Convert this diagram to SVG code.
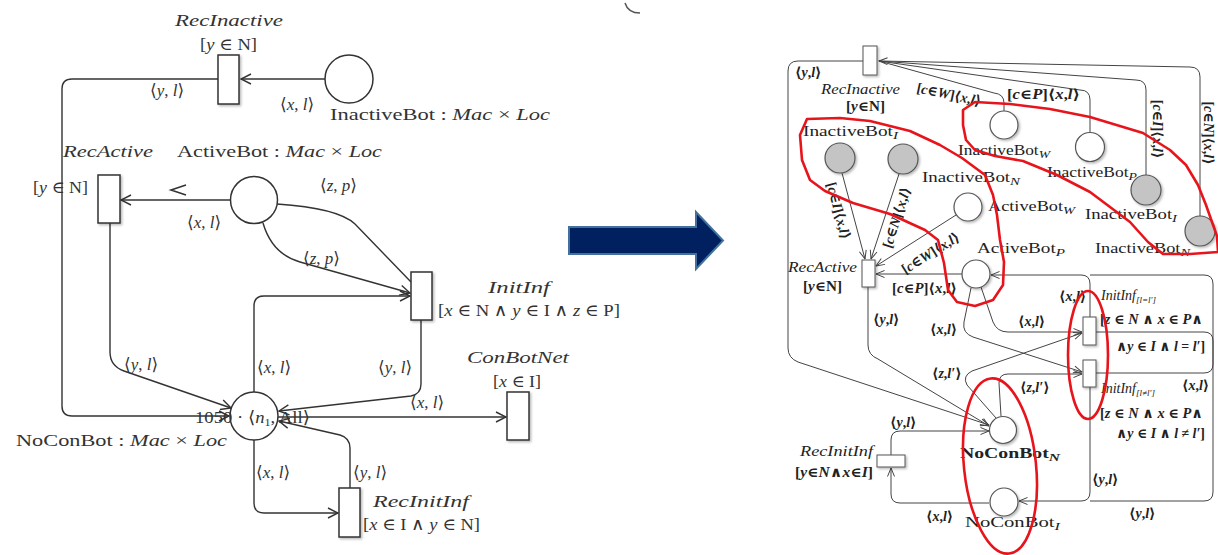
<svg xmlns="http://www.w3.org/2000/svg" width="1218" height="555" viewBox="0 0 1218 555">
<style>
.lt{font-family:'Liberation Serif','DejaVu Serif',serif;font-size:17px;fill:#333}
.rt{font-family:'Liberation Serif','DejaVu Serif',serif;font-size:14px;fill:#222}
.it{font-style:italic}
.b{font-weight:bold}
.ll{fill:none;stroke:#333;stroke-width:1.4}
.rl{fill:none;stroke:#444;stroke-width:1}
.lbox{fill:#fff;stroke:#333;stroke-width:1.5}
.rbox{fill:#fff;stroke:#555;stroke-width:1}
.rw{fill:#fff;stroke:#555;stroke-width:1.2}
.rg{fill:#c4c4c4;stroke:#555;stroke-width:1.2}
.red{fill:none;stroke:#e8141c;stroke-width:2.6;stroke-linejoin:round}
</style>
<defs>
<marker id="al" viewBox="0 0 12 12" markerWidth="12" markerHeight="12" refX="11" refY="6" orient="auto" markerUnits="userSpaceOnUse"><path d="M1,1 L11,6 L1,11" fill="none" stroke="#333" stroke-width="1.4"/></marker>
<marker id="ar" viewBox="0 0 10 10" markerWidth="10" markerHeight="10" refX="9.5" refY="5" orient="auto" markerUnits="userSpaceOnUse"><path d="M1,1.5 L9.5,5 L1,8.5" fill="none" stroke="#444" stroke-width="1"/></marker>
<filter id="sh" x="-30%" y="-30%" width="170%" height="170%"><feDropShadow dx="1.5" dy="1.5" stdDeviation="1.2" flood-color="#000" flood-opacity="0.28"/></filter>
</defs>
<rect width="1218" height="555" fill="#fff"/>

<!-- stray arc at top -->
<path d="M625 3 Q628 13 640 13" fill="none" stroke="#555" stroke-width="1.5"/>

<!-- ===== LEFT NET: connectors ===== -->
<g id="left-connectors">
<path class="ll" d="M325 79 H241" marker-end="url(#al)"/>
<path class="ll" d="M218 79 H72 Q62 79 62 89 V406 Q62 416 72 416 H229" marker-end="url(#al)"/>
<path class="ll" d="M230 200 H121" marker-end="url(#al)"/>
<polyline points="186,185 171,190 186,195" fill="none" stroke="#333" stroke-width="1.6"/>
<path class="ll" d="M277 204 Q338 208 355 224 L411 282"/>
<path class="ll" d="M263 223 Q272 254 300 262 L410 293" marker-end="url(#al)"/>
<path class="ll" d="M254 392 V306 Q254 296 264 296 H410" marker-end="url(#al)"/>
<path class="ll" d="M421 320 V384 Q421 394 411 396 L279 411" marker-end="url(#al)"/>
<path class="ll" d="M110 223 V352 Q110 366 124 371 L231 408" marker-end="url(#al)"/>
<path class="ll" d="M278 417 H506" marker-end="url(#al)"/>
<path class="ll" d="M254 440 V503 Q254 513 264 513 H338" marker-end="url(#al)"/>
<path class="ll" d="M350 488 V448 Q350 438 340 435 L279 421" marker-end="url(#al)"/>
<text class="lt" x="150" y="96">⟨<tspan class="it">y</tspan>, <tspan class="it">l</tspan>⟩</text>
<text class="lt" x="280" y="110">⟨<tspan class="it">x</tspan>, <tspan class="it">l</tspan>⟩</text>
<text class="lt" x="187" y="228">⟨<tspan class="it">x</tspan>, <tspan class="it">l</tspan>⟩</text>
<text class="lt" x="320" y="191">⟨<tspan class="it">z</tspan>, <tspan class="it">p</tspan>⟩</text>
<text class="lt" x="303" y="264">⟨<tspan class="it">z</tspan>, <tspan class="it">p</tspan>⟩</text>
<text class="lt" x="124" y="370">⟨<tspan class="it">y</tspan>, <tspan class="it">l</tspan>⟩</text>
<text class="lt" x="257" y="373">⟨<tspan class="it">x</tspan>, <tspan class="it">l</tspan>⟩</text>
<text class="lt" x="378" y="373">⟨<tspan class="it">y</tspan>, <tspan class="it">l</tspan>⟩</text>
<text class="lt" x="410" y="408">⟨<tspan class="it">x</tspan>, <tspan class="it">l</tspan>⟩</text>
<text class="lt" x="256" y="478">⟨<tspan class="it">x</tspan>, <tspan class="it">l</tspan>⟩</text>
<text class="lt" x="353" y="478">⟨<tspan class="it">y</tspan>, <tspan class="it">l</tspan>⟩</text>
</g>

<!-- ===== LEFT NET: nodes ===== -->
<g id="L-RecInactive">
<rect class="lbox" x="218" y="55" width="21" height="49" filter="url(#sh)"/>
<text class="lt it" x="175" y="26" font-size="20" textLength="108" lengthAdjust="spacingAndGlyphs">RecInactive</text>
<text class="lt" x="200" y="50" font-size="18" textLength="57" lengthAdjust="spacingAndGlyphs">[<tspan class="it">y</tspan> ∈ N]</text>
</g>
<g id="L-InactiveBot">
<circle class="lbox" cx="349" cy="79" r="24"/>
<text class="lt" x="330" y="120" font-size="20" textLength="220" lengthAdjust="spacingAndGlyphs">InactiveBot : <tspan class="it">Mac</tspan> × <tspan class="it">Loc</tspan></text>
</g>
<g id="L-RecActive">
<rect class="lbox" x="98" y="175" width="22" height="48" filter="url(#sh)"/>
<text class="lt it" x="63" y="157" font-size="20" textLength="90" lengthAdjust="spacingAndGlyphs">RecActive</text>
<text class="lt" x="33" y="193" font-size="18" textLength="55" lengthAdjust="spacingAndGlyphs">[<tspan class="it">y</tspan> ∈ N]</text>
</g>
<g id="L-ActiveBot">
<circle class="lbox" cx="254" cy="200" r="23.5"/>
<text class="lt" x="177" y="157" font-size="20" textLength="205" lengthAdjust="spacingAndGlyphs">ActiveBot : <tspan class="it">Mac</tspan> × <tspan class="it">Loc</tspan></text>
</g>
<g id="L-InitInf">
<rect class="lbox" x="411" y="272" width="21" height="48" filter="url(#sh)"/>
<text class="lt it" x="488" y="293" font-size="20" textLength="62" lengthAdjust="spacingAndGlyphs">InitInf</text>
<text class="lt" x="438" y="316" font-size="18" textLength="182" lengthAdjust="spacingAndGlyphs">[<tspan class="it">x</tspan> ∈ N ∧ <tspan class="it">y</tspan> ∈ I ∧ <tspan class="it">z</tspan> ∈ P]</text>
</g>
<g id="L-NoConBot">
<circle class="lbox" cx="254" cy="416" r="24"/>
<text class="lt" x="195" y="423" font-size="18" textLength="115" lengthAdjust="spacingAndGlyphs">1050 · ⟨<tspan class="it">n</tspan><tspan font-size="11" dy="3">1</tspan><tspan dy="-3">, All⟩</tspan></text>
<text class="lt" x="16" y="446" font-size="20" textLength="211" lengthAdjust="spacingAndGlyphs">NoConBot : <tspan class="it">Mac</tspan> × <tspan class="it">Loc</tspan></text>
</g>
<g id="L-ConBotNet">
<rect class="lbox" x="507" y="392" width="22" height="48" filter="url(#sh)"/>
<text class="lt it" x="467" y="363" font-size="20" textLength="102" lengthAdjust="spacingAndGlyphs">ConBotNet</text>
<text class="lt" x="493" y="387" font-size="18" textLength="48" lengthAdjust="spacingAndGlyphs">[<tspan class="it">x</tspan> ∈ I]</text>
</g>
<g id="L-RecInitInf">
<rect class="lbox" x="339" y="488" width="21" height="49" filter="url(#sh)"/>
<text class="lt it" x="373" y="507" font-size="20" textLength="96" lengthAdjust="spacingAndGlyphs">RecInitInf</text>
<text class="lt" x="363" y="530" font-size="18" textLength="117" lengthAdjust="spacingAndGlyphs">[<tspan class="it">x</tspan> ∈ I ∧ <tspan class="it">y</tspan> ∈ N]</text>
</g>

<!-- ===== BIG ARROW ===== -->
<g id="transform-arrow">
<polygon points="569,227 696,227 696,212 723,240.5 696,269 696,254 569,254" fill="#002060" stroke="#41719c" stroke-width="2"/>
</g>

<!-- ===== RIGHT NET: connectors ===== -->
<g id="right-connectors">
<path class="rl" d="M863 61 H798 Q788 61 788 71 V348 Q788 358 798 362 L989 425" marker-end="url(#ar)"/>
<path class="rl" d="M868 287 V345 Q868 355 878 359 L989 426" marker-end="url(#ar)"/>
<path class="rl" d="M891 455 V440 Q891 431 900 431 H989" marker-end="url(#ar)"/>
<path class="rl" d="M989 503 H900 Q891 503 891 494 V468" marker-end="url(#ar)"/>
<path class="rl" d="M842 173 L865 259" marker-end="url(#ar)"/>
<path class="rl" d="M899 174 L871 259" marker-end="url(#ar)"/>
<path class="rl" d="M956 215 L876 266" marker-end="url(#ar)"/>
<path class="rl" d="M962 274 H876" marker-end="url(#ar)"/>
<path class="rl" d="M1200 216 V77 Q1200 67 1190 67 L879 61" marker-end="url(#ar)"/>
<path class="rl" d="M1146 175 V90 Q1146 80 1136 80 L879 61"/>
<path class="rl" d="M1090 132 V100 Q1090 90 1080 90 L879 61"/>
<path class="rl" d="M1004 111 V103 Q1004 94 994 93 L879 61"/>
<path class="rl" d="M981 287 L993 322 Q997 332 1008 332 H1082" marker-end="url(#ar)"/>
<path class="rl" d="M971 288 L964 322 Q962 333 973 337 L1082 372" marker-end="url(#ar)"/>
<path class="rl" d="M996 418 L967 385 Q962 376 972 371 L1082 333" marker-end="url(#ar)"/>
<path class="rl" d="M1001 416 L999 383 Q999 374 1008 374 H1082" marker-end="url(#ar)"/>
<path class="rl" d="M1090 317 V284 Q1090 275 1081 275 H991" marker-end="url(#ar)"/>
<path class="rl" d="M1096 373 H1204 Q1213 373 1213 364 V284 Q1213 275 1204 275 H1090"/>
<path class="rl" d="M1096 332 H1204 Q1213 332 1213 341 V492 Q1213 501 1204 501 H1090"/>
<path class="rl" d="M1090 387 V492 Q1090 501 1081 501 H1019" marker-end="url(#ar)"/>
<text class="rt b" x="795" y="77">⟨<tspan class="it">y</tspan>,<tspan class="it">l</tspan>⟩</text>
<text class="rt b" transform="translate(948 99) rotate(12)" text-anchor="middle">[<tspan class="it">c</tspan>∈<tspan class="it">W</tspan>]⟨<tspan class="it">x</tspan>,<tspan class="it">l</tspan>⟩</text>
<text class="rt b" x="1007" y="99" textLength="73" lengthAdjust="spacingAndGlyphs">[<tspan class="it">c</tspan>∈<tspan class="it">P</tspan>]⟨<tspan class="it">x</tspan>,<tspan class="it">l</tspan>⟩</text>
<text class="rt b" transform="translate(1153 129) rotate(90)" text-anchor="middle">[<tspan class="it">c</tspan>∈<tspan class="it">I</tspan>]⟨<tspan class="it">x</tspan>,<tspan class="it">l</tspan>⟩</text>
<text class="rt b" transform="translate(1204 133) rotate(90)" text-anchor="middle">[<tspan class="it">c</tspan>∈<tspan class="it">N</tspan>]⟨<tspan class="it">x</tspan>,<tspan class="it">l</tspan>⟩</text>
<text class="rt b" transform="translate(834 212) rotate(75)" text-anchor="middle">[<tspan class="it">c</tspan>∈<tspan class="it">I</tspan>]⟨<tspan class="it">x</tspan>,<tspan class="it">l</tspan>⟩</text>
<text class="rt b" transform="translate(901 219) rotate(-72)" text-anchor="middle">[<tspan class="it">c</tspan>∈<tspan class="it">N</tspan>]⟨<tspan class="it">x</tspan>,<tspan class="it">l</tspan>⟩</text>
<text class="rt b" transform="translate(933 257) rotate(-32)" text-anchor="middle">[<tspan class="it">c</tspan>∈<tspan class="it">W</tspan>]⟨<tspan class="it">x</tspan>,<tspan class="it">l</tspan>⟩</text>
<text class="rt b" x="892" y="293" textLength="65" lengthAdjust="spacingAndGlyphs">[<tspan class="it">c</tspan>∈<tspan class="it">P</tspan>]⟨<tspan class="it">x</tspan>,<tspan class="it">l</tspan>⟩</text>
<text class="rt b" x="873" y="324">⟨<tspan class="it">y</tspan>,<tspan class="it">l</tspan>⟩</text>
<text class="rt b" x="930" y="334">⟨<tspan class="it">x</tspan>,<tspan class="it">l</tspan>⟩</text>
<text class="rt b" x="1018" y="326">⟨<tspan class="it">x</tspan>,<tspan class="it">l</tspan>⟩</text>
<text class="rt b" x="1059" y="301">⟨<tspan class="it">x</tspan>,<tspan class="it">l</tspan>⟩</text>
<text class="rt b" x="932" y="378">⟨<tspan class="it">z</tspan>,<tspan class="it">l′</tspan>⟩</text>
<text class="rt b" x="1020" y="392">⟨<tspan class="it">z</tspan>,<tspan class="it">l′</tspan>⟩</text>
<text class="rt b" x="1182" y="390">⟨<tspan class="it">x</tspan>,<tspan class="it">l</tspan>⟩</text>
<text class="rt b" x="1092" y="484">⟨<tspan class="it">y</tspan>,<tspan class="it">l</tspan>⟩</text>
<text class="rt b" x="1129" y="518">⟨<tspan class="it">y</tspan>,<tspan class="it">l</tspan>⟩</text>
<text class="rt b" x="890" y="427">⟨<tspan class="it">y</tspan>,<tspan class="it">l</tspan>⟩</text>
<text class="rt b" x="926" y="521">⟨<tspan class="it">x</tspan>,<tspan class="it">l</tspan>⟩</text>
</g>

<!-- ===== RIGHT NET: nodes ===== -->
<g id="R-RecInactive">
<rect class="rbox" x="863" y="46" width="14" height="29" filter="url(#sh)"/>
<text class="rt it" x="821" y="94" font-size="15.5" textLength="79" lengthAdjust="spacingAndGlyphs">RecInactive</text>
<text class="rt b" x="846" y="111" textLength="39" lengthAdjust="spacingAndGlyphs">[<tspan class="it">y</tspan>∈N]</text>
</g>
<g id="R-InactiveBot-I-left">
<circle class="rg" cx="840" cy="158" r="15" filter="url(#sh)"/>
<text class="rt" x="803" y="136" font-size="17" textLength="95" lengthAdjust="spacingAndGlyphs">InactiveBot<tspan class="it" font-size="11" dy="3">I</tspan></text>
</g>
<g id="R-InactiveBot-N-left">
<circle class="rg" cx="903" cy="159" r="15" filter="url(#sh)"/>
<text class="rt" x="922" y="182" font-size="17" textLength="98" lengthAdjust="spacingAndGlyphs">InactiveBot<tspan class="it" font-size="11" dy="3">N</tspan></text>
</g>
<g id="R-InactiveBot-W">
<circle class="rw" cx="1004" cy="125" r="14" filter="url(#sh)"/>
<text class="rt" x="958" y="155" font-size="17" textLength="92" lengthAdjust="spacingAndGlyphs">InactiveBot<tspan class="it" font-size="11" dy="3">W</tspan></text>
</g>
<g id="R-InactiveBot-P">
<circle class="rw" cx="1090" cy="147" r="14.5" filter="url(#sh)"/>
<text class="rt" x="1047" y="177" font-size="17" textLength="90" lengthAdjust="spacingAndGlyphs">InactiveBot<tspan class="it" font-size="11" dy="3">P</tspan></text>
</g>
<g id="R-InactiveBot-I-right">
<circle class="rg" cx="1146" cy="190" r="15" filter="url(#sh)"/>
<text class="rt" x="1085" y="219" font-size="17" textLength="92" lengthAdjust="spacingAndGlyphs">InactiveBot<tspan class="it" font-size="11" dy="3">I</tspan></text>
</g>
<g id="R-InactiveBot-N-right">
<circle class="rg" cx="1200" cy="231" r="15" filter="url(#sh)"/>
<text class="rt" x="1095" y="253" font-size="17" textLength="95" lengthAdjust="spacingAndGlyphs">InactiveBot<tspan class="it" font-size="11" dy="3">N</tspan></text>
</g>
<g id="R-ActiveBot-W">
<circle class="rw" cx="968" cy="207" r="14" filter="url(#sh)"/>
<text class="rt" x="988" y="211" font-size="17" textLength="87" lengthAdjust="spacingAndGlyphs">ActiveBot<tspan class="it" font-size="11" dy="3">W</tspan></text>
</g>
<g id="R-ActiveBot-P">
<circle class="rw" cx="976" cy="274" r="14" filter="url(#sh)"/>
<text class="rt" x="977" y="253" font-size="17" textLength="88" lengthAdjust="spacingAndGlyphs">ActiveBot<tspan class="it" font-size="11" dy="3">P</tspan></text>
</g>
<g id="R-RecActive">
<rect class="rbox" x="862" y="260" width="13" height="27" filter="url(#sh)"/>
<text class="rt it" x="788" y="272" font-size="15.5" textLength="69" lengthAdjust="spacingAndGlyphs">RecActive</text>
<text class="rt b" x="803" y="291" textLength="39" lengthAdjust="spacingAndGlyphs">[<tspan class="it">y</tspan>∈N]</text>
</g>
<g id="R-InitInf-eq">
<rect class="rbox" x="1083" y="317" width="13" height="28" filter="url(#sh)"/>
<text class="rt it" x="1101" y="300" font-size="15.5">InitInf<tspan font-size="9" dy="3">[<tspan class="it">l</tspan>=<tspan class="it">l′</tspan>]</tspan></text>
<text class="rt b" x="1100" y="324" textLength="103" lengthAdjust="spacingAndGlyphs">[<tspan class="it">z</tspan> ∈ <tspan class="it">N</tspan> ∧ <tspan class="it">x</tspan> ∈ <tspan class="it">P</tspan>∧</text>
<text class="rt b" x="1116" y="351" textLength="89" lengthAdjust="spacingAndGlyphs">∧<tspan class="it">y</tspan> ∈ <tspan class="it">I</tspan> ∧ <tspan class="it">l</tspan> = <tspan class="it">l′</tspan>]</text>
</g>
<g id="R-InitInf-neq">
<rect class="rbox" x="1083" y="360" width="13" height="27" filter="url(#sh)"/>
<text class="rt it" x="1101" y="393" font-size="15.5">InitInf<tspan font-size="9" dy="3">[<tspan class="it">l</tspan>≠<tspan class="it">l′</tspan>]</tspan></text>
<text class="rt b" x="1100" y="418" textLength="103" lengthAdjust="spacingAndGlyphs">[<tspan class="it">z</tspan> ∈ <tspan class="it">N</tspan> ∧ <tspan class="it">x</tspan> ∈ <tspan class="it">P</tspan>∧</text>
<text class="rt b" x="1116" y="438" textLength="89" lengthAdjust="spacingAndGlyphs">∧<tspan class="it">y</tspan> ∈ <tspan class="it">I</tspan> ∧ <tspan class="it">l</tspan> ≠ <tspan class="it">l′</tspan>]</text>
</g>
<g id="R-NoConBot-N">
<circle class="rw" cx="1003" cy="430" r="13.5" filter="url(#sh)"/>
<text class="rt b" x="960" y="458" font-size="16.5" textLength="100" lengthAdjust="spacingAndGlyphs">NoConBot<tspan class="it" font-size="11" dy="3">N</tspan></text>
</g>
<g id="R-NoConBot-I">
<circle class="rw" cx="1004" cy="502" r="14" filter="url(#sh)"/>
<text class="rt" x="965" y="527" font-size="17" textLength="95" lengthAdjust="spacingAndGlyphs">NoConBot<tspan class="it" font-size="11" dy="3">I</tspan></text>
</g>
<g id="R-RecInitInf">
<rect class="rbox" x="877" y="455" width="28" height="12" filter="url(#sh)"/>
<text class="rt it" x="800" y="456" font-size="15.5" textLength="73" lengthAdjust="spacingAndGlyphs">RecInitInf</text>
<text class="rt b" x="795" y="477" textLength="78" lengthAdjust="spacingAndGlyphs">[<tspan class="it">y</tspan>∈<tspan class="it">N</tspan>∧<tspan class="it">x</tspan>∈<tspan class="it">I</tspan>]</text>
</g>

<!-- ===== RED ANNOTATIONS ===== -->
<g id="annotations">
<path class="red" d="M807 119 L840 118 L870 121 L910 131 L940 145 L962 158 L985 175 L993 195 L997 215 L1000 240 L1004 262 L1003 285 L993 300 L975 306 L957 302 L948 290 L944 263 L938 240 L925 230 L890 214 L853 203 L825 191 L810 180 L802 160 L800 135 Z"/>
<path class="red" d="M963 110 L975 102 L1010 104 L1050 109 L1090 117 L1143 133 L1170 150 L1186 165 L1198 185 L1206 205 L1212 222 L1217 236 L1218 252 L1190 254 L1163 254 L1148 242 L1130 222 L1090 192 L1057 175 L1023 161 L995 156 L975 150 L966 140 L963 125 Z"/>
<ellipse class="red" cx="1088" cy="355" rx="20" ry="64"/>
<ellipse class="red" cx="1000" cy="466" rx="36" ry="88" stroke-width="4" transform="rotate(-6 1000 466)"/>
</g>
</svg>
